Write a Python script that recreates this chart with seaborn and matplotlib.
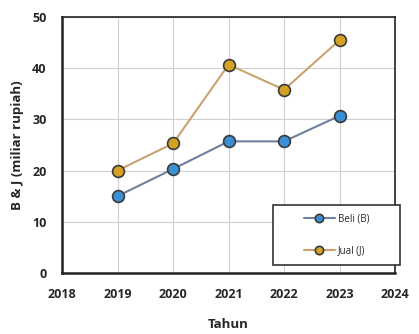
import matplotlib
matplotlib.use("Agg")
import matplotlib.pyplot as plt
import matplotlib.patches as mpatches
import seaborn as sns
import pandas as pd

years = [2019, 2020, 2021, 2022, 2023]
beli = [15, 20.3, 25.7, 25.7, 30.7]
jual = [20, 25.3, 40.7, 35.8, 45.5]
series_names = ["Beli (B)", "Jual (J)"]
x_ticks = [2018, 2019, 2020, 2021, 2022, 2023, 2024]
y_ticks = [0, 10, 20, 30, 40, 50]

df = pd.DataFrame({
    "Tahun": years * 2,
    "val": beli + jual,
    "series": [series_names[0]] * len(years) + [series_names[1]] * len(years),
})

sns.set_style("white")
plt.rcParams['font.family'] = ['Open Sans', 'DejaVu Sans']

fig = plt.figure(figsize=(4.19, 3.34), dpi=100)
ax = fig.add_axes([0.148, 0.183, 0.795, 0.766])

line_colors = {"Beli (B)": "#6f7f9c", "Jual (J)": "#c9a26e"}
marker_colors = {"Beli (B)": "#3b8fd4", "Jual (J)": "#d6a224"}

for name in series_names:
    sub = df[df["series"] == name]
    sns.lineplot(data=sub, x="Tahun", y="val", ax=ax, color=line_colors[name],
                 linewidth=1.5, marker="o", markersize=8.5,
                 markerfacecolor=marker_colors[name], markeredgecolor="#3a3a3a",
                 markeredgewidth=1.2, label=name)

ax.set_xlim(2018, 2024)
ax.set_ylim(0, 50)
ax.set_xticks(x_ticks)
ax.set_yticks(y_ticks)
ax.set_xticklabels([str(t) for t in x_ticks], fontweight="bold", fontsize=9)
ax.set_yticklabels([str(t) for t in y_ticks], fontweight="bold", fontsize=9)
ax.tick_params(axis="both", length=3, color="#222222", pad=8)
ax.tick_params(axis="x", length=0, pad=11)
ax.grid(True, color="#d0d0d0", linewidth=0.8)
for s in ax.spines.values():
    s.set_color("#222222")
    s.set_linewidth(1.2)
ax.spines["left"].set_linewidth(1.8)
ax.spines["bottom"].set_linewidth(1.8)

ax.set_xlabel("Tahun", fontweight="bold", fontsize=9.5, labelpad=12)
ax.set_ylabel("B & J (miliar rupiah)", fontweight="bold", fontsize=9.5, labelpad=6)

# legend frame
frame = mpatches.Rectangle((0.634, 0.03), 0.38, 0.236, transform=ax.transAxes,
                           facecolor="white", edgecolor="#333333", linewidth=1.2,
                           clip_on=False, zorder=5)
ax.add_patch(frame)

leg = ax.legend(loc="center right", fontsize=7, frameon=False,
                labelspacing=2.1, handlelength=3.2, handletextpad=0.3,
                bbox_to_anchor=(0.634, 0.03, 0.30, 0.236), borderaxespad=0)
leg.set_zorder(6)
for h in leg.legend_handles:
    h.set_markersize(6)

fig.savefig("out.png", dpi=100)
